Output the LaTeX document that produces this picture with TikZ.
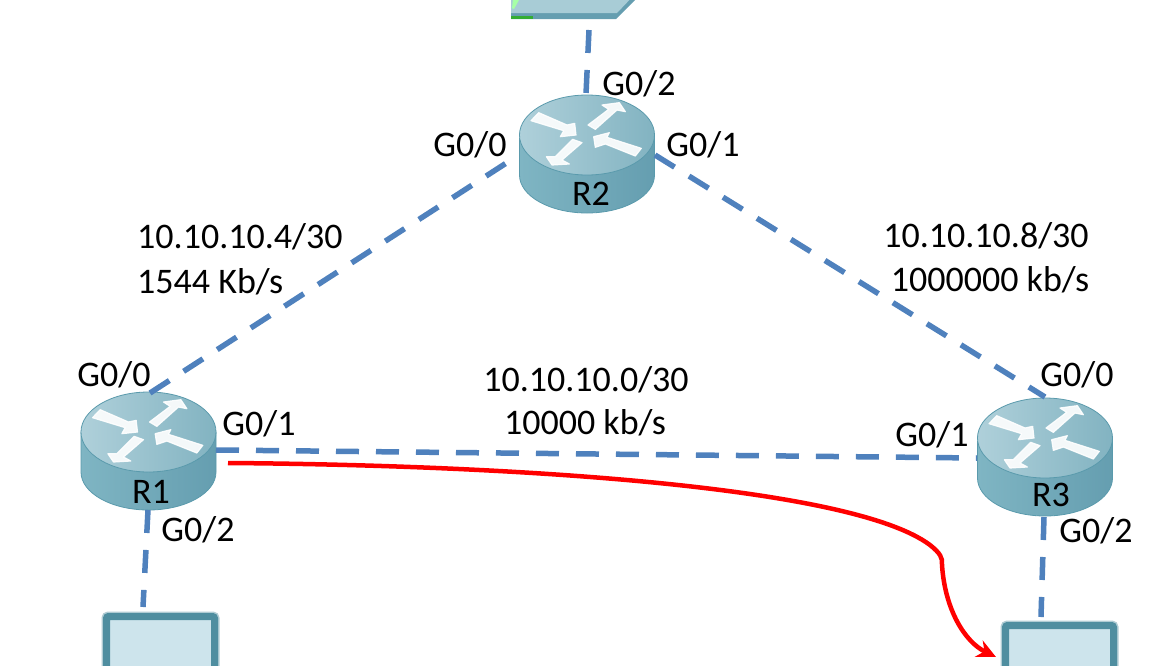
\documentclass[tikz,border=0pt]{standalone}
\usepackage{fontspec}
\setmainfont{Carlito}
\usetikzlibrary{arrows.meta}
\definecolor{linkblue}{HTML}{4F81BD}
\definecolor{devedge}{HTML}{5A9AAC}
\definecolor{pcframe}{HTML}{4F8EA0}
\definecolor{pcscreen}{HTML}{CDE4EC}
\tikzset{
  lbl/.style={font=\fontsize{36}{40}\selectfont,inner sep=0pt,text=black},
  link/.style={linkblue,line width=5.5pt,dash pattern=on 23pt off 17pt},
  flow/.style={red,line width=4.5pt,-{Stealth[length=19pt,width=18pt]}},
  monitor/.style={draw=pcframe,line width=7pt,fill=pcscreen,rounded corners=2pt},
  routerarrow/.style={fill=white,draw=white,line width=1.2pt,line join=round,opacity=.9},
  router/.pic={
    % body, then top face
    \draw[devedge,line width=.8pt,left color=B1,right color=B2]
      (-67.5,0) -- (-67.5,40) arc[start angle=180,end angle=0,x radius=67.5,y radius=38] -- (67.5,0) -- cycle;
    \draw[devedge,line width=.8pt,left color=T1,right color=T2]
      (0,0) ellipse[x radius=67.5,y radius=40];
    \begin{scope}[x=.3333pt,y=-.3333pt]
    \path[routerarrow] (-168,-43) -- (-145,-67) -- (-60,-30) -- (-37,-35) -- (-33,0) -- (-80,5) -- (-70,-13) -- cycle;
    \path[routerarrow] (3,-30) -- (65,-77) -- (45,-90) -- (97,-97) -- (115,-70) -- (90,-75) -- (25,-17) -- cycle;
    \path[routerarrow] (-43,13) -- (-15,23) -- (-75,75) -- (-53,87) -- (-105,90) -- (-122,65) -- (-95,65) -- cycle;
    \path[routerarrow] (163,40) -- (145,63) -- (55,27) -- (25,37) -- (20,5) -- (67,-7) -- (60,7) -- cycle;
    \end{scope}
  }
}
\definecolor{T1}{HTML}{AFD0DA}
\definecolor{T2}{HTML}{82B3C1}
\definecolor{B1}{HTML}{7FB5C3}
\definecolor{B2}{HTML}{659EB0}
\begin{document}
\begin{tikzpicture}[x=1pt,y=-1pt]
\useasboundingbox (0,0) rectangle (1160,665);
\begin{scope}
\clip (0,0) rectangle (1160,665);
% switch at the top, cut by the page edge
\fill[B2] (511,-8) -- (643,-8) -- (616,19) -- (511,19) -- cycle;
\fill[T1!85!B1] (511,13) -- (617,13) -- (637,-8) -- (511,-8) -- cycle;
\fill[green!60!black!80] (511,16) rectangle (533,19);
\fill[green!35] (513,0) -- (519,0) -- (514,9) -- (512,8) -- cycle;
% end devices
\draw[monitor,draw=pcframe!45,line width=10pt] (106.5,616.5) rectangle (214.5,680);
\draw[monitor] (106.5,616.5) rectangle (214.5,680);
\draw[monitor,draw=pcframe!45,line width=10pt] (1005.5,625.5) rectangle (1113.5,680);
\draw[monitor] (1005.5,625.5) rectangle (1113.5,680);
\end{scope}
% routers
\pic at (148.5,432) {router};
\pic at (587,135) {router};
\pic at (1045,438) {router};
% ports
\coordinate (R1g0) at (150,393);
\coordinate (R1g1) at (216,450);
\coordinate (R1g2) at (148,510);
\coordinate (R2g0) at (511,160);
\coordinate (R2g1) at (655,155);
\coordinate (R2g2) at (586,94);
\coordinate (R3g0) at (1045,397);
\coordinate (R3g1) at (977,458);
\coordinate (R3g2) at (1044,517);
\coordinate (SWp) at (589,30);
\coordinate (PCa) at (143,607);
\coordinate (PCb) at (1041,617);
\coordinate (FLs) at (228,463);
\coordinate (FLm) at (942,565);
\coordinate (FLe) at (996,657);
% links
\draw[link] (R1g0) -- (R2g0);
\draw[link] (R2g1) -- (R3g0);
\draw[link] (R1g1) -- (R3g1);
\draw[link] (R1g2) -- (PCa);
\draw[link] (R3g2) -- (PCb);
\draw[link] (SWp) -- (R2g2);
% path from R1 to the right hand device
\draw[flow] (FLs) .. controls (500,465) and (850,485) .. (930,545)
  .. controls (940,553) and (943,558) .. (FLm)
  .. controls (945,610) and (965,642) .. (FLe);
% labels
\node[lbl] (lR1) at (151,492) {R1};
\node[lbl] (lR2) at (591,194) {R2};
\node[lbl] (lR3) at (1051,495) {R3};
\node[lbl] (lR1a) at (114,375) {G0/0};
\node[lbl] (lR1b) at (259,424) {G0/1};
\node[lbl] (lR1c) at (198,530) {G0/2};
\node[lbl] (lR2a) at (470,145) {G0/0};
\node[lbl] (lR2b) at (703,145) {G0/1};
\node[lbl] (lR2c) at (639,84) {G0/2};
\node[lbl] (lR3a) at (1077,375) {G0/0};
\node[lbl] (lR3b) at (932,435) {G0/1};
\node[lbl] (lR3c) at (1096,531) {G0/2};
\node[lbl,anchor=west] (lNa) at (137,237) {10.10.10.4/30};
\node[lbl,anchor=west] (lSa) at (137,282) {1544 Kb/s};
\node[lbl] (lNb) at (986,236) {10.10.10.8/30};
\node[lbl] (lSb) at (990,280) {1000000 kb/s};
\node[lbl] (lNc) at (586,380) {10.10.10.0/30};
\node[lbl] (lSc) at (585,423) {10000 kb/s};
\end{tikzpicture}
\end{document}
